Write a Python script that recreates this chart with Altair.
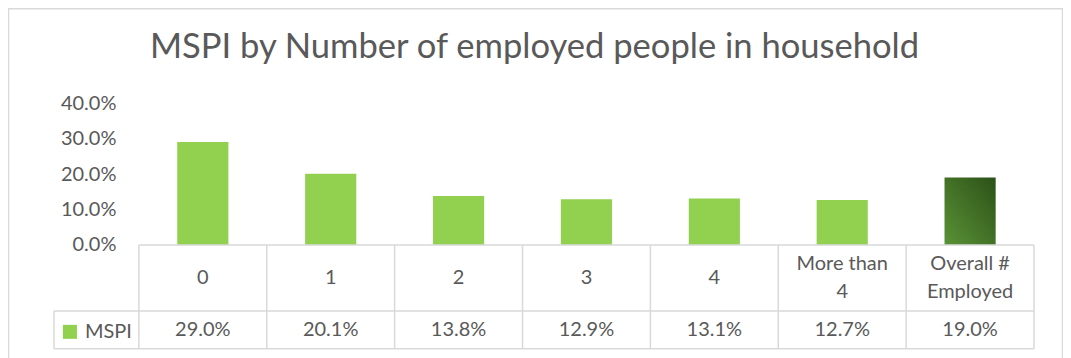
import altair as alt
import pandas as pd

categories = ["0", "1", "2", "3", "4", "More than 4", "Overall # Employed"]
header_line1 = ["0", "1", "2", "3", "4", "More than", "Overall #"]
header_line2 = ["", "", "", "", "", "4", "Employed"]
mspi = [0.290, 0.201, 0.138, 0.129, 0.131, 0.127, 0.190]
series_name = "MSPI"
y_ticks = [0.0, 0.1, 0.2, 0.3, 0.4]

df = pd.DataFrame({
    "cat": categories,
    "l1": header_line1,
    "l2": header_line2,
    "value": mspi,
    "series": [series_name] * len(categories),
})
one = pd.DataFrame({"k": [0]})

FONT = "Lato"
TXT = "#595959"
LINE = "#D9D9D9"
W, H = 896, 142
FS = 20

xs = alt.X("cat:N", sort=categories, axis=None,
           scale=alt.Scale(paddingInner=0, paddingOuter=0))
ys = alt.Y("value:Q", scale=alt.Scale(domain=[0, 0.4]),
           axis=alt.Axis(values=y_ticks, format=".1%", domain=False, ticks=False,
                         grid=False, labelPadding=23, labelFontSize=FS,
                         labelColor=TXT, labelFont=FONT, labelOverlap=False,
                         labelBound=False, labelFlush=False),
           title=None)

base = alt.Chart(df)

frame = alt.Chart(one).mark_rect(filled=False, stroke=LINE, strokeWidth=1.5).encode(
    x=alt.value(-130.5), x2=alt.value(924.5), y=alt.value(-94.5), y2=alt.value(400))

bars = base.transform_filter(alt.datum.cat != categories[-1]).mark_bar(
    width=alt.RelativeBandSize(0.4)).encode(
    x=xs, y=ys,
    color=alt.Color("series:N", scale=alt.Scale(domain=[series_name], range=["#92D050"]),
                    legend=alt.Legend(orient="none", legendX=-79, legendY=219, title=None,
                                      symbolType="square", symbolSize=196, symbolStrokeWidth=0,
                                      labelFontSize=FS, labelColor=TXT, labelFont=FONT,
                                      padding=0, labelOffset=5)))

grad = alt.LinearGradient(gradient="linear", x1=0, y1=1, x2=1, y2=0,
                          stops=[alt.GradientStop(color="#5A9236", offset=0),
                                 alt.GradientStop(color="#2C5118", offset=1)])
overall = base.transform_filter(alt.datum.cat == categories[-1]).mark_bar(
    width=alt.RelativeBandSize(0.4), color=grad).encode(x=xs, y=ys)

vrules = base.mark_rule(color=LINE, strokeWidth=1.5).encode(
    x=alt.X("cat:N", sort=categories, bandPosition=0),
    y=alt.value(H), y2=alt.value(246))
vlast = alt.Chart(one).mark_rule(color=LINE, strokeWidth=1.5).encode(
    x=alt.value(W), y=alt.value(H), y2=alt.value(246))
vleft = alt.Chart(one).mark_rule(color=LINE, strokeWidth=1.5).encode(
    x=alt.value(-85), y=alt.value(208), y2=alt.value(246))
h1 = alt.Chart(one).mark_rule(color=LINE, strokeWidth=1.5).encode(
    x=alt.value(0), x2=alt.value(W), y=alt.value(H))
h2 = alt.Chart(one).mark_rule(color=LINE, strokeWidth=1.5).encode(
    x=alt.value(-85), x2=alt.value(W), y=alt.value(208))
h3 = alt.Chart(one).mark_rule(color=LINE, strokeWidth=1.5).encode(
    x=alt.value(-85), x2=alt.value(W), y=alt.value(246))

txt = dict(fontSize=FS, font=FONT, color=TXT, baseline="middle")
xt = alt.X("cat:N", sort=categories)
header_single = base.transform_filter(alt.datum.l2 == "").mark_text(**txt).encode(
    x=xt, y=alt.value(175), text="l1:N")
header_top = base.transform_filter(alt.datum.l2 != "").mark_text(**txt).encode(
    x=xt, y=alt.value(161), text="l1:N")
header_bottom = base.transform_filter(alt.datum.l2 != "").mark_text(**txt).encode(
    x=xt, y=alt.value(189), text="l2:N")
values = base.mark_text(**txt).encode(
    x=xt, y=alt.value(227), text=alt.Text("value:Q", format=".1%"))

chart = alt.layer(frame, bars, overall, vrules, vlast, vleft, h1, h2, h3,
                  header_single, header_top, header_bottom, values).properties(
    width=W, height=H,
    title=alt.TitleParams("MSPI by Number of employed people in household", fontSize=34.6,
                          font=FONT, color=TXT, fontWeight="normal", anchor="middle",
                          dx=-52, dy=78, offset=20),
    autosize=alt.AutoSizeParams(type="none"),
    padding={"left": 131, "top": 95, "right": 29, "bottom": 113},
).configure_view(stroke=None).configure_axis(labelOverlap=False)

chart.save("out.html", embed_options={"renderer": "svg", "actions": False})
